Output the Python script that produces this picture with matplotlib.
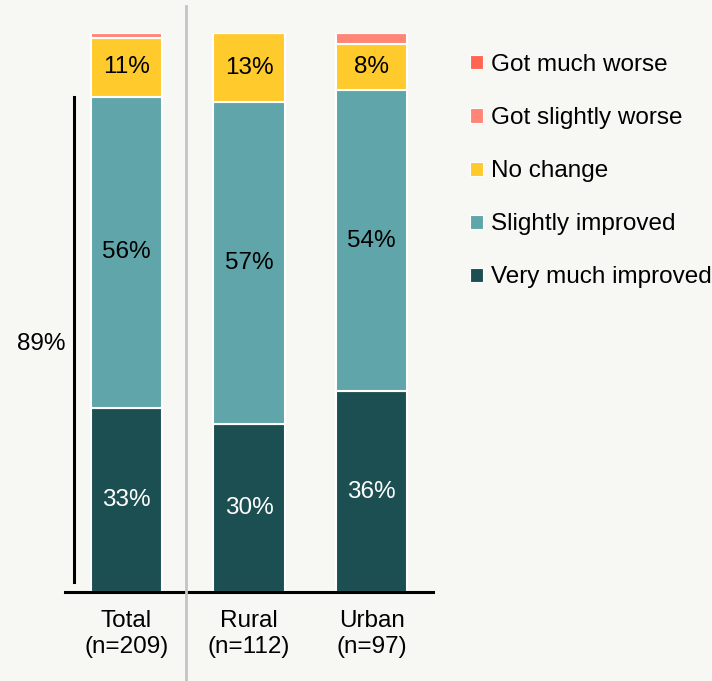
import matplotlib
matplotlib.use("Agg")
import matplotlib.pyplot as plt
from matplotlib.patches import Patch
import numpy as np

plt.rcParams['font.family'] = ['Liberation Sans', 'DejaVu Sans']

categories = ["Total\n(n=209)", "Rural\n(n=112)", "Urban\n(n=97)"]
series_names = ["Very much improved", "Slightly improved", "No change",
                "Got slightly worse", "Got much worse"]
very_much_improved = [32.9, 30.0, 35.9]
slightly_improved = [55.7, 57.6, 53.9]
no_change = [10.5, 12.4, 8.2]
got_slightly_worse = [0.9, 0.0, 2.0]
got_much_worse = [0.0, 0.0, 0.0]
labels_vmi = ["33%", "30%", "36%"]
labels_si = ["56%", "57%", "54%"]
labels_nc = ["11%", "13%", "8%"]
bracket_label = "89%"

colors = ["#1c4f52", "#5fa5aa", "#ffca2c", "#ff8677", "#ff6552"]
text_colors = ["white", "black", "black"]
bg = "#f7f7f3"
FS = 17.5

fig = plt.figure(figsize=(7.12, 6.81), dpi=100, facecolor=bg)
W, H = 712, 681
ax = fig.add_axes([65 / W, 89 / H, (433 - 65) / W, 559 / H])
ax.set_facecolor(bg)

x = np.arange(len(categories))
series = [very_much_improved, slightly_improved, no_change, got_slightly_worse, got_much_worse]
bottom = np.zeros(len(categories))
bar_lists = []
for vals, col in zip(series, colors):
    bars = ax.bar(x, vals, 0.58, bottom=bottom, color=col, edgecolor="white", linewidth=1.5)
    bar_lists.append(bars)
    bottom = bottom + np.array(vals)

for bars, labs, tc in zip(bar_lists[:3], [labels_vmi, labels_si, labels_nc], text_colors):
    ax.bar_label(bars, labels=labs, label_type="center", color=tc, fontsize=FS)

ax.set_xlim(-0.5, 2.5)
ax.set_ylim(0, 100)
for s in ["top", "right", "left"]:
    ax.spines[s].set_visible(False)
ax.spines["bottom"].set_linewidth(2.2)
ax.spines["bottom"].set_color("black")
ax.set_yticks([])
ax.set_xticks(x)
ax.set_xticklabels(categories, fontsize=FS, linespacing=1.25)
ax.tick_params(axis="x", length=0, pad=13)

# bracket for total improved
total_improved = very_much_improved[0] + slightly_improved[0]
ax.plot([-0.43, -0.43], [1.8, total_improved], color="black", lw=2.2, clip_on=False)
ax.text(-0.497, total_improved / 2, bracket_label, ha="right", va="center", fontsize=FS)

# separator line
fig.add_artist(plt.Line2D([186 / W, 186 / W], [0, 1 - 6 / H], color="#c4c4c4", lw=2,
                          transform=fig.transFigure))

handles = [Patch(facecolor=c, edgecolor="white", linewidth=0.8) for c in colors[::-1]]
fig.legend(handles, series_names[::-1], loc="upper left",
           bbox_to_anchor=(470 / W, 1 - 54 / H), frameon=False, fontsize=FS,
           handlelength=0.52, handleheight=0.52, handletextpad=0.33,
           labelspacing=1.28, borderaxespad=0, borderpad=0)

fig.savefig("out.png", dpi=100, facecolor=bg)
